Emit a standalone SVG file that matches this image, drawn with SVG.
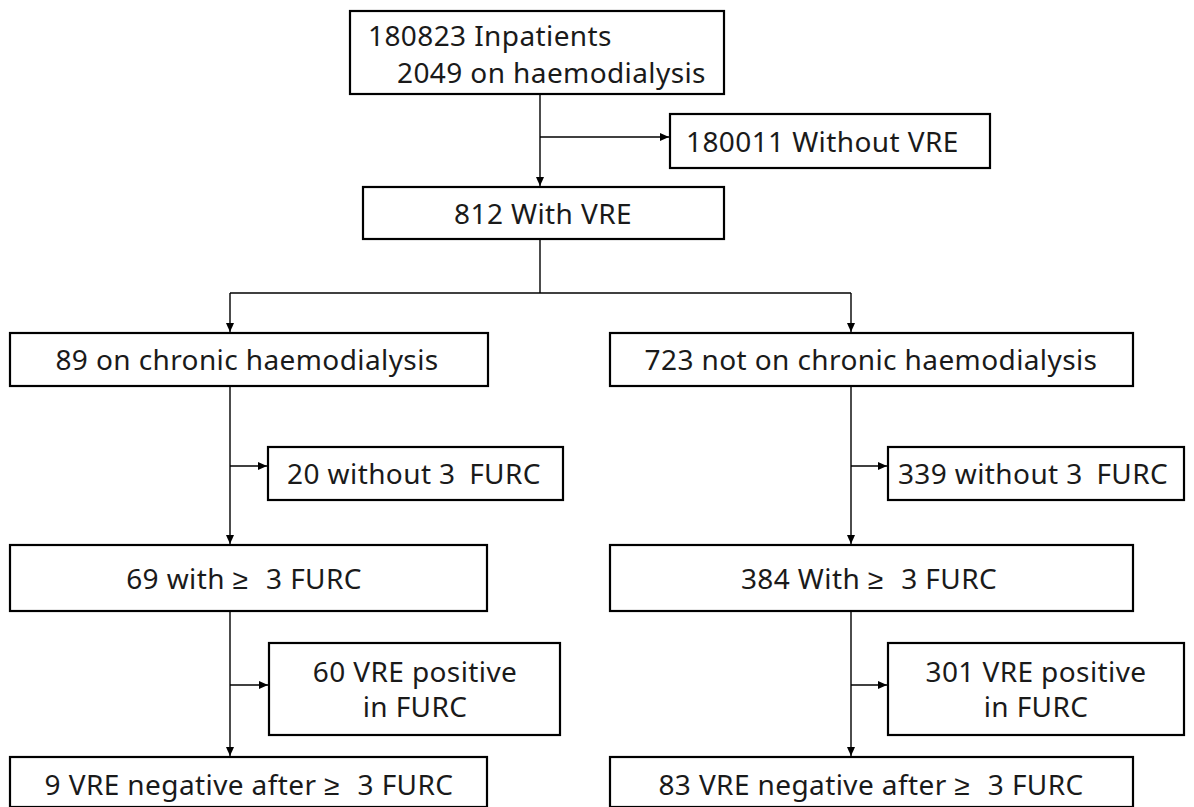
<svg xmlns="http://www.w3.org/2000/svg" width="1194" height="807" viewBox="0 0 1194 807">
<style>
.box{fill:#fff;stroke:#000;stroke-width:2.2}
.t{font-family:"Noto Sans","Liberation Sans",sans-serif;font-size:28px;letter-spacing:0.4px;fill:#1a1a1a}
.c{text-anchor:middle}
.ln{fill:none;stroke:#000;stroke-width:1.4}
</style>
<defs>
<marker id="ah" markerWidth="10" markerHeight="10" refX="9" refY="5" orient="auto" markerUnits="userSpaceOnUse">
<path d="M0,1 L9,5 L0,9 Z" fill="#000"/>
</marker>
</defs>
<rect width="1194" height="807" fill="#fff"/>
<g id="connectors">
<path class="ln" d="M540,94 V186" marker-end="url(#ah)"/>
<path class="ln" d="M540,137 H669" marker-end="url(#ah)"/>
<path class="ln" d="M540,239 V293"/>
<path class="ln" d="M230,293 H851"/>
<path class="ln" d="M230,293 V332" marker-end="url(#ah)"/>
<path class="ln" d="M851,293 V332" marker-end="url(#ah)"/>
<path class="ln" d="M230,386 V544" marker-end="url(#ah)"/>
<path class="ln" d="M230,466 H267" marker-end="url(#ah)"/>
<path class="ln" d="M851,386 V544" marker-end="url(#ah)"/>
<path class="ln" d="M851,466 H887" marker-end="url(#ah)"/>
<path class="ln" d="M230,611 V756" marker-end="url(#ah)"/>
<path class="ln" d="M230,685 H268" marker-end="url(#ah)"/>
<path class="ln" d="M851,611 V756" marker-end="url(#ah)"/>
<path class="ln" d="M851,685 H887" marker-end="url(#ah)"/>
</g>
<g id="n1"><rect class="box" x="350" y="11" width="374" height="83"/>
<text class="t" x="368" y="46">180823 Inpatients</text>
<text class="t" x="397" y="83">2049 on haemodialysis</text></g>
<g id="n2"><rect class="box" x="670" y="114" width="320" height="54"/>
<text class="t" x="686" y="152">180011 Without VRE</text></g>
<g id="n3"><rect class="box" x="363" y="187" width="361" height="52"/>
<text class="t c" x="543" y="224">812 With VRE</text></g>
<g id="n4"><rect class="box" x="10" y="333" width="478" height="53"/>
<text class="t c" x="247" y="370">89 on chronic haemodialysis</text></g>
<g id="n5"><rect class="box" x="610" y="333" width="523" height="53"/>
<text class="t c" x="871" y="370">723 not on chronic haemodialysis</text></g>
<g id="n6"><rect class="box" x="268" y="447" width="295" height="53"/>
<text class="t c" x="414" y="484">20 without 3 <tspan dx="6">FURC</tspan></text></g>
<g id="n7"><rect class="box" x="888" y="447" width="296" height="53"/>
<text class="t c" x="1033" y="484">339 without 3 <tspan dx="6">FURC</tspan></text></g>
<g id="n8"><rect class="box" x="10" y="545" width="477" height="66"/>
<text class="t c" x="244" y="589">69 with ≥ <tspan dx="10">3 FURC</tspan></text></g>
<g id="n9"><rect class="box" x="610" y="545" width="523" height="66"/>
<text class="t c" x="869" y="589">384 With ≥ <tspan dx="10">3 FURC</tspan></text></g>
<g id="n10"><rect class="box" x="269" y="643" width="291" height="92"/>
<text class="t c" x="415" y="682">60 VRE positive</text>
<text class="t c" x="415" y="717">in FURC</text></g>
<g id="n11"><rect class="box" x="888" y="643" width="296" height="92"/>
<text class="t c" x="1036" y="682">301 VRE positive</text>
<text class="t c" x="1036" y="717">in FURC</text></g>
<g id="n12"><rect class="box" x="10" y="757" width="477" height="50"/>
<text class="t c" x="249" y="795">9 VRE negative after ≥ <tspan dx="10">3 FURC</tspan></text></g>
<g id="n13"><rect class="box" x="610" y="757" width="523" height="50"/>
<text class="t c" x="871" y="795">83 VRE negative after ≥ <tspan dx="10">3 FURC</tspan></text></g>
</svg>
